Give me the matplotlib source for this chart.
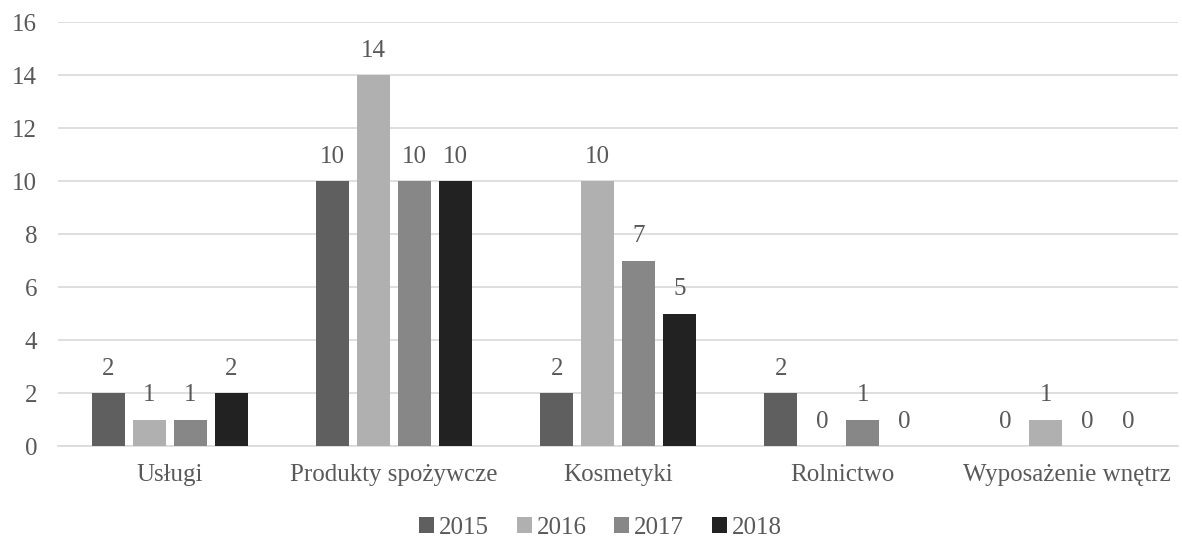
import matplotlib
matplotlib.use("Agg")
import matplotlib.pyplot as plt
import numpy as np

categories = ["Usługi", "Produkty spożywcze", "Kosmetyki", "Rolnictwo", "Wyposażenie wnętrz"]
years = ["2015", "2016", "2017", "2018"]
v2015 = [2, 10, 2, 2, 0]
v2016 = [1, 14, 10, 0, 1]
v2017 = [1, 10, 7, 1, 0]
v2018 = [2, 10, 5, 0, 0]
series = [v2015, v2016, v2017, v2018]
colors = ["#5f5f5f", "#b0b0b0", "#878787", "#222222"]
yticks = [0, 2, 4, 6, 8, 10, 12, 14, 16]

plt.rcParams['font.family'] = ['Liberation Serif', 'DejaVu Serif']
txt = "#595959"
fs = 18

fig = plt.figure(figsize=(11.82, 5.38), dpi=100)
ax = fig.add_axes([0.049, 0.171, 0.948, 0.788])

x = np.arange(len(categories))
pitch = 0.183
width = 0.148
for i, (vals, c, y) in enumerate(zip(series, colors, years)):
    pos = x + (i - 1.5) * pitch
    ax.bar(pos, vals, width=width, color=c, label=y, zorder=3)
    for p, v in zip(pos, vals):
        ax.text(p, v + 0.5, str(v), ha="center", va="bottom", fontsize=fs, color=txt)

ax.set_xlim(-0.5, len(categories) - 0.5)
ax.set_ylim(0, 16)
ax.set_yticks(yticks)
ax.yaxis.grid(True, color="#d9d9d9", linewidth=1.2, zorder=0)
ax.set_axisbelow(True)
for s in ["top", "right", "left"]:
    ax.spines[s].set_visible(False)
ax.spines["bottom"].set_color("#d9d9d9")
ax.spines["bottom"].set_linewidth(1.2)
ax.tick_params(axis="both", length=0, labelsize=fs, labelcolor=txt)
ax.tick_params(axis="y", pad=15)
ax.tick_params(axis="x", pad=13)
ax.set_xticks(x)
ax.set_xticklabels(categories)

ax.legend(loc="center", bbox_to_anchor=(0.508, 1 - 528 / 538), bbox_transform=fig.transFigure,
          ncol=4, frameon=False, fontsize=fs, labelcolor=txt, handlelength=0.6, handleheight=0.6,
          handletextpad=0.2, columnspacing=1.1, borderpad=0)

fig.savefig("out.png", dpi=100)
